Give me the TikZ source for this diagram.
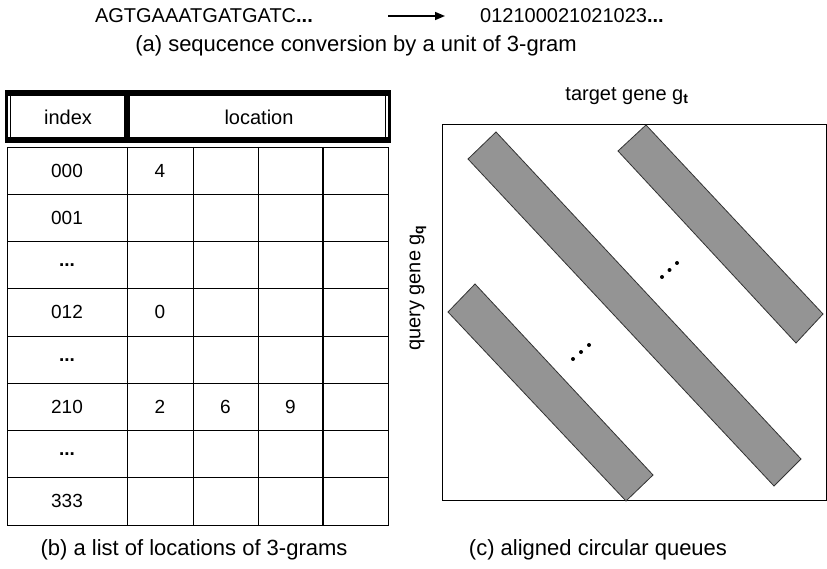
\documentclass[tikz,border=0pt]{standalone}
\usepackage{fontspec}
\setmainfont{Liberation Sans}
\usetikzlibrary{positioning, arrows.meta}

\tikzset{
  txt/.style={inner sep=0pt, font=\fontsize{19}{22}\selectfont},
  label/.style={inner sep=0pt, font=\fontsize{20}{24}\selectfont},
  subcap/.style={inner sep=0pt, font=\fontsize{22}{26}\selectfont},
  queue/.style={fill=black!42, draw=black!80, line width=0.8pt},
  conv/.style={-{Triangle[length=10pt,width=8pt]}, line width=1.6pt},
}
\newcommand{\qdot}[1]{\fill (#1) circle (2);}

\begin{document}
\begin{tikzpicture}[x=1pt, y=-1pt]
\useasboundingbox (0,0) rectangle (827,569);

% sequence conversion
\node[label, anchor=east] (seq) at (313,16) {AGTGAAATGATGATC\textbf{...}};
\node[label, anchor=west] (code) at (480,16) {012100021021023\textbf{...}};
\draw[conv, shorten <=75pt, shorten >=35pt] (seq.east) -- (code.west);
\node[subcap] (capa) at (356,46) {(a) sequcence conversion by a unit of 3-gram};

% header of the table
\fill (5,90) rectangle (391,96);
\fill (5,137) rectangle (391,143);
\draw[line width=3pt] (6.5,91.5) -- (6.5,141.5);
\draw[line width=3pt] (389.5,91.5) -- (389.5,141.5);
\draw[line width=6pt] (127,91.5) -- (127,141.5);
\draw[line width=0.8pt] (10.5,93) -- (10.5,140);
\draw[line width=0.8pt] (385.5,93) -- (385.5,140);
\node[label] (hidx) at (68,117) {index};
\node[label] (hloc) at (259,117) {location};

% body of the table
\draw[line width=0.8pt] (7,147) rectangle (388,525);
\foreach \y in {194.25,241.5,288.75,336,383.25,430.5,477.75}
  \draw[line width=0.8pt] (7,\y) -- (388,\y);
\foreach \x in {127,193,258}
  \draw[line width=0.8pt] (\x,147) -- (\x,525);
\draw[line width=1.8pt] (323,147) -- (323,525);
\foreach \t [count=\i] in {000,001,\textbf{...},012,\textbf{...},210,\textbf{...},333}
  \node[txt] (idx\i) at (67,{147+47.25*(\i-0.5)}) {\t};
\node[txt] (loc1) at (160,170.6) {4};
\node[txt] (loc4) at (160,312.4) {0};
\node[txt] (loc6a) at (160,407) {2};
\node[txt] (loc6b) at (225.5,407) {6};
\node[txt] (loc6c) at (290.5,407) {9};
\node[subcap] (capb) at (194,550) {(b) a list of locations of 3-grams};

% aligned circular queues
\draw[line width=0.8pt] (442,124) rectangle (826,500);
\draw[queue] (468,159) -- (496,132) -- (801,459) -- (774,486) -- cycle;
\draw[queue] (618,151) -- (646,125) -- (823,314) -- (796,343) -- cycle;
\draw[queue] (448,312) -- (475,284) -- (653,475) -- (626,501) -- cycle;
\qdot{662,277} \qdot{669.5,270} \qdot{677,263}
\qdot{573,359} \qdot{581,352} \qdot{589,345}
\node[label] (tgt) at (627,96) {target gene g\textsubscript{\textbf{t}}};
\node[label, rotate=90] (qry) at (418,288) {query gene g\textsubscript{\textbf{q}}};
\node[subcap] (capc) at (598,550) {(c) aligned circular queues};
\end{tikzpicture}
\end{document}
